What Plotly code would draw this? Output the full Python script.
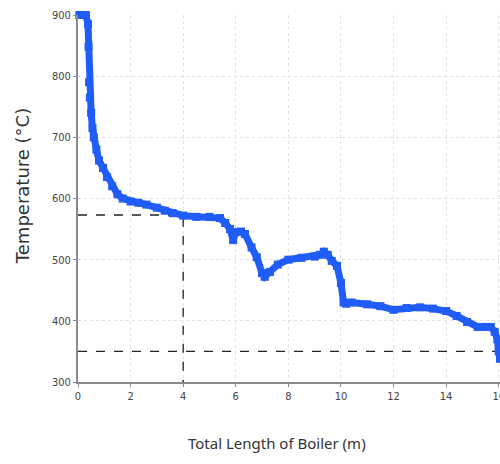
import plotly.graph_objects as go

# Curve
length_m = [0.05, 0.15, 0.3, 0.38, 0.4, 0.42, 0.45, 0.5, 0.55, 0.6, 0.7, 0.8, 0.95, 1.1, 1.3,
            1.5, 1.7, 2.0, 2.3, 2.6, 3.0, 3.3, 3.6, 4.0, 4.5, 5.0, 5.4, 5.6, 5.78, 5.9, 6.0,
            6.2, 6.35, 6.6, 6.8, 7.0, 7.1, 7.3, 7.6, 8.0, 8.5, 9.0, 9.2, 9.35, 9.5, 9.65,
            9.85, 10.0, 10.1, 10.2, 10.4, 11.0, 11.5, 12.0, 12.5, 13.0, 13.5, 14.0, 14.4,
            14.8, 15.2, 15.5, 15.7, 15.85, 15.95, 16.0, 16.05]
temperature_c = [900, 900, 900, 885, 848, 790, 765, 740, 715, 700, 680, 662, 650, 635, 620,
                 607, 600, 595, 593, 590, 585, 580, 576, 572, 570, 570, 568, 560, 550, 532, 545,
                 546, 542, 520, 504, 478, 472, 480, 492, 500, 503, 505, 508, 513, 508, 498,
                 490, 462, 430, 428, 430, 427, 424, 418, 421, 422, 420, 416, 408,
                 398, 390, 390, 390, 382, 370, 350, 338]

# Dashed guide lines
guide1_x = [0, 4, 4]
guide1_y = [573, 573, 300]
guide2_x = [0, 16.05]
guide2_y = [350, 350]

x_ticks = [0, 2, 4, 6, 8, 10, 12, 14, 16]
y_ticks = [300, 400, 500, 600, 700, 800, 900]

blue = "#1f5cf8"

fig = go.Figure()
fig.add_trace(go.Scatter(x=guide1_x, y=guide1_y, mode="lines",
                         line=dict(color="#222222", width=1.3, dash="dash"),
                         hoverinfo="skip", showlegend=False))
fig.add_trace(go.Scatter(x=guide2_x, y=guide2_y, mode="lines",
                         line=dict(color="#222222", width=1.3, dash="dash"),
                         hoverinfo="skip", showlegend=False))
fig.add_trace(go.Scatter(x=length_m, y=temperature_c, mode="lines+markers",
                         line=dict(color=blue, width=7),
                         marker=dict(symbol="square", size=8, color=blue),
                         cliponaxis=False, showlegend=False))

tick_font = dict(family="Liberation Sans Narrow, DejaVu Sans Condensed, Liberation Sans, sans-serif",
                 size=11, color="#444444")

fig.update_xaxes(range=[0, 16.05], tickvals=x_ticks, ticktext=[str(v) for v in x_ticks],
                 showline=True, linecolor="#8a8a8a", linewidth=2,
                 ticks="outside", ticklen=3, tickcolor="#8a8a8a",
                 showgrid=True, gridcolor="#e2e2e2", griddash="dot", gridwidth=1,
                 zeroline=False, tickfont=tick_font, ticklabeloverflow="allow",
                 automargin=False)
fig.update_yaxes(range=[300, 900], tickvals=y_ticks, ticktext=[str(v) for v in y_ticks],
                 showline=True, linecolor="#8a8a8a", linewidth=2,
                 ticks="outside", ticklen=3, tickcolor="#8a8a8a",
                 showgrid=True, gridcolor="#e2e2e2", griddash="dot", gridwidth=1,
                 zeroline=False, tickfont=tick_font, automargin=False)

fig.add_annotation(text="Total Length of Boiler (m)", xref="paper", yref="paper",
                   x=(277 - 78) / 422, y=-(443 - 381.7) / 366.7, showarrow=False,
                   xanchor="center", yanchor="middle",
                   font=dict(family="Noto Sans, Open Sans, sans-serif", size=15, color="#333333"))
fig.add_annotation(text="Temperature (°C)", xref="paper", yref="paper",
                   x=-(78 - 22) / 422, y=(381.7 - 186) / 366.7, showarrow=False,
                   xanchor="center", yanchor="middle", textangle=-90,
                   font=dict(family="DejaVu Sans, sans-serif", size=18, color="#333333"))

fig.update_layout(width=500, height=464, margin=dict(l=78, r=0, t=15, b=82.3),
                  paper_bgcolor="white", plot_bgcolor="white")

fig.write_html("out.html")
